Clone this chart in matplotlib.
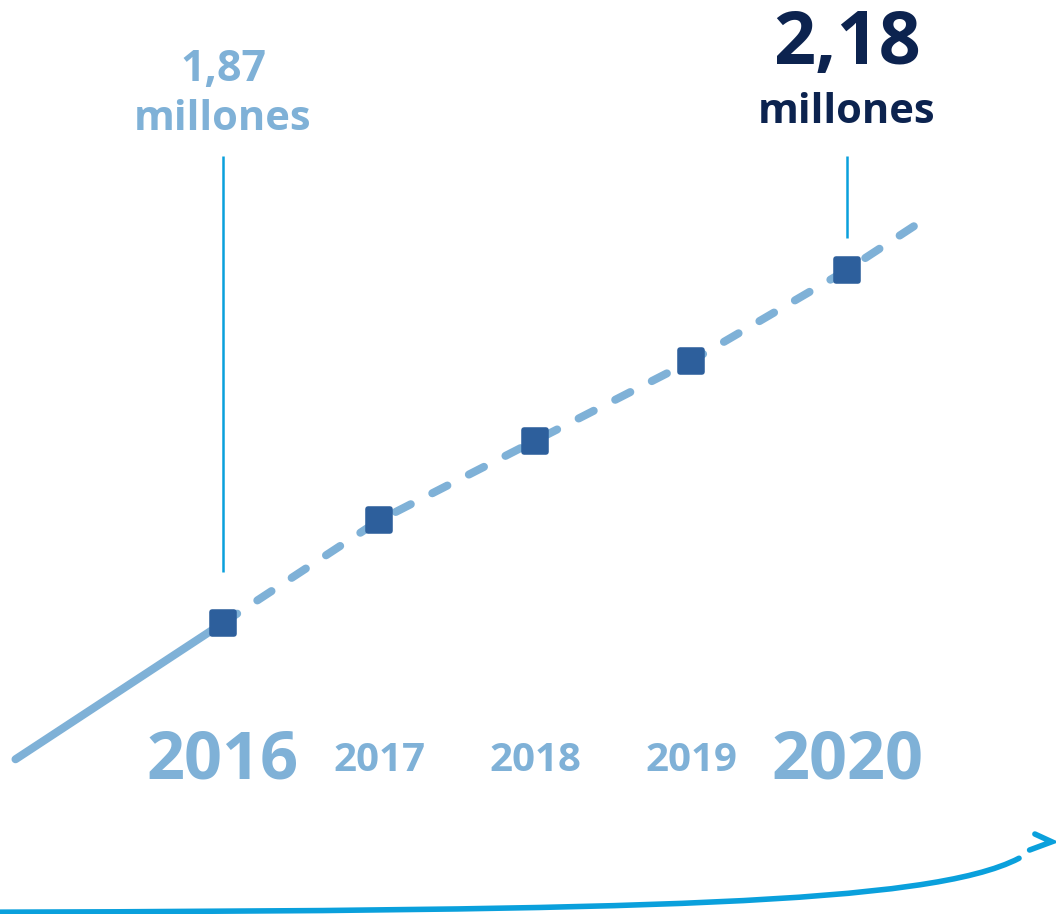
import numpy as np
import matplotlib
matplotlib.use("Agg")
import matplotlib.pyplot as plt
from matplotlib.markers import MarkerStyle
from matplotlib.patches import PathPatch
from matplotlib.path import Path

plt.rcParams['font.family'] = ['Open Sans', 'DejaVu Sans']

# data
years = [2016, 2017, 2018, 2019, 2020]
values = [1.87, 1.96, 2.03, 2.10, 2.18]
year_labels = ['2016', '2017', '2018', '2019', '2020']
first_label = '1,87'
last_label = '2,18'
unit = 'millones'

light = '#7fb1d7'
marker_col = '#2d5f9c'
navy = '#0c234f'
cyan = '#0aa0dc'

fig = plt.figure(figsize=(10.56, 9.14), dpi=100)
ax = fig.add_axes([0, 0, 1, 1])
ax.set_xlim(2014.5705, 2021.3397)
ax.set_ylim(1.6144, 2.4171)
ax.axis('off')

# solid lead-in before the first year, dashed trend after
lead = 1.33
slope0 = values[1] - values[0]
ax.plot([years[0] - lead, years[0]], [values[0] - slope0 * lead, values[0]],
        color=light, lw=5.8, solid_capstyle='round', zorder=1)
ext = 0.47
slope1 = (values[-1] - values[-2]) * 1.12
xs = years + [years[-1] + ext]
ys = values + [values[-1] + slope1 * ext]
ax.plot(xs, ys, color=light, lw=5.8, dashes=(2.1, 3.0), dash_capstyle='round', zorder=1)

ms = MarkerStyle('s', joinstyle='round')
ax.plot(years, values, ls='none', marker=ms, ms=16, color=marker_col,
        mec=marker_col, mew=4, zorder=3)

# leader lines
ax.vlines(years[0], values[0] + 0.045, 2.28, color=cyan, lw=1.8)
ax.vlines(years[-1], values[-1] + 0.028, 2.28, color=cyan, lw=1.8)

# value labels
ax.text(years[0], 2.356, first_label, ha='center', va='center', fontsize=31,
        fontweight='bold', color=light)
ax.text(years[0], 2.312, unit, ha='center', va='center', fontsize=30,
        fontweight='bold', color=light)
ax.text(years[-1], 2.378, last_label, ha='center', va='center', fontsize=53,
        fontweight='bold', color=navy)
ax.text(years[-1], 2.318, unit, ha='center', va='center', fontsize=30,
        fontweight='bold', color=navy)

# year labels
for i, (yr, lab) in enumerate(zip(years, year_labels)):
    big = i in (0, len(years) - 1)
    ax.text(yr, 1.749, lab, ha='center', va='center',
            fontsize=48 if big else 29, fontweight='bold', color=light)

# bottom arrow
verts = [(0.0, 0.002), (0.6, 0.004), (0.88, 0.010), (0.965, 0.061)]
path = Path(verts, [Path.MOVETO, Path.CURVE4, Path.CURVE4, Path.CURVE4])
ax.add_patch(PathPatch(path, transform=ax.transAxes, fc='none', ec=cyan,
                       lw=4, capstyle='round'))
ax.plot([0.980, 0.996, 0.975], [0.0875, 0.079, 0.070], transform=ax.transAxes,
        color=cyan, lw=4, solid_capstyle='round', solid_joinstyle='miter')

fig.savefig('out.png', dpi=100)
